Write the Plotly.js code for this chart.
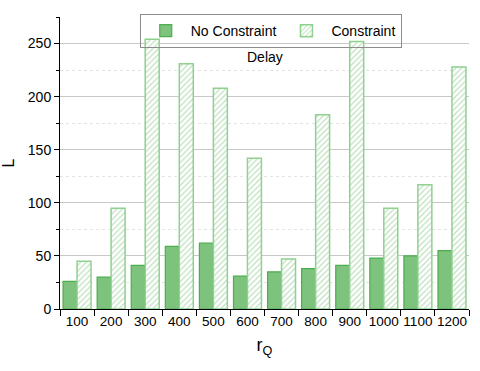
<!DOCTYPE html>
<html lang="en">
<head>
    <meta charset="UTF-8">
    <title>Delay</title>
    <script src="https://cdn.plot.ly/plotly-3.0.1.min.js"></script>
    <style>
        body { margin: 0; padding: 0; background: white; }
        #plot { width: 480px; height: 371px; }
    </style>
</head>
<body>
    <div id="plot"></div>
    <script>
        const categories = ['100', '200', '300', '400', '500', '600', '700', '800', '900', '1000', '1100', '1200'];
        const noConstraint = [26, 30, 41, 59, 62, 31, 35, 38, 41, 48, 50, 55];
        const constraint = [45, 95, 254, 231, 208, 142, 47, 183, 252, 95, 117, 228];

        const traces = [
            {
                x: categories,
                y: noConstraint,
                type: 'bar',
                name: 'No Constraint',
                marker: {
                    color: '#7dc27d',
                    line: {color: '#4cae4c', width: 1.2}
                }
            },
            {
                x: categories,
                y: constraint,
                type: 'bar',
                name: 'Constraint',
                marker: {
                    color: 'white',
                    pattern: {shape: '/', fgcolor: '#bfe0bf', bgcolor: 'white', size: 4, solidity: 0.3},
                    line: {color: '#8fd18f', width: 1.5}
                }
            }
        ];

        const layout = {
            width: 480,
            height: 371,
            margin: {l: 60, r: 11, t: 17, b: 62},
            font: {family: 'Liberation Sans, Arial, sans-serif', color: '#000', size: 14},
            barmode: 'group',
            bargap: 0.18,
            bargroupgap: 0,
            plot_bgcolor: 'white',
            paper_bgcolor: 'white',
            showlegend: true,
            legend: {
                orientation: 'h',
                x: 0.195, y: 1.01,
                xanchor: 'left', yanchor: 'top',
                bgcolor: 'rgba(255,255,255,0)',
                bordercolor: '#8c8c8c',
                borderwidth: 1,
                font: {size: 14},
                itemwidth: 40,
                tracegroupgap: 0
            },
            xaxis: {
                type: 'category',
                title: {text: 'r<sub>Q</sub>', font: {size: 18}, standoff: 10},
                showline: true,
                linecolor: '#000',
                linewidth: 1,
                ticks: 'outside',
                tickson: 'boundaries',
                ticklen: 6,
                tickcolor: '#000',
                tickangle: 0,
                showgrid: false,
                tickfont: {size: 13.5}
            },
            yaxis: {
                title: {text: 'L', font: {size: 16}, standoff: 14},
                range: [0, 275],
                dtick: 50,
                showline: true,
                linecolor: '#000',
                linewidth: 1,
                ticks: 'outside',
                ticklen: 5,
                tickcolor: '#000',
                showgrid: true,
                gridcolor: '#c8c8c8',
                zeroline: false,
                tickfont: {size: 14},
                minor: {
                    dtick: 25,
                    ticks: 'outside',
                    ticklen: 3,
                    tickcolor: '#000',
                    showgrid: true,
                    gridcolor: '#e4e4e4',
                    griddash: 'dot'
                }
            },
            annotations: [{
                text: 'Delay',
                xref: 'paper', yref: 'paper',
                x: 0.452, y: 0.862,
                xanchor: 'left', yanchor: 'middle',
                showarrow: false,
                font: {size: 14}
            }]
        };

        Plotly.newPlot('plot', traces, layout, {displayModeBar: false});
    </script>
</body>
</html>
